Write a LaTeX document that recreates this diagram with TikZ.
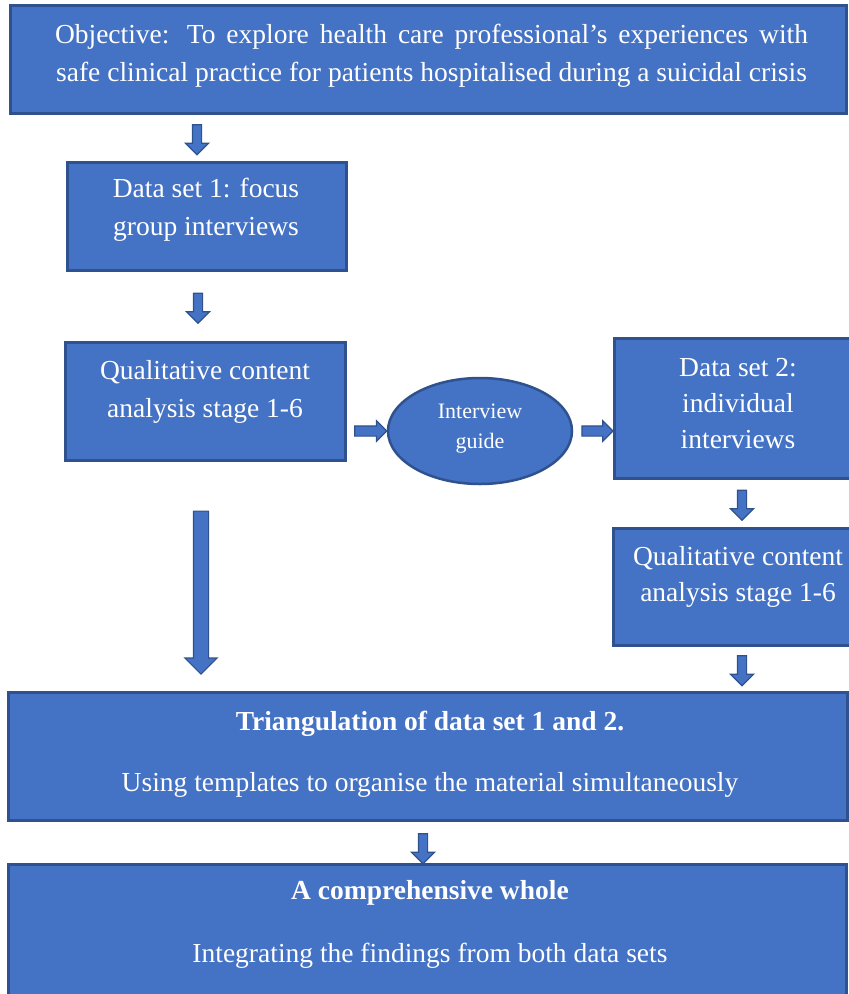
\documentclass[tikz,border=0pt]{standalone}
\usepackage{fontspec}
\setmainfont{Liberation Serif}
\usetikzlibrary{shapes.geometric,shapes.arrows}

\definecolor{officeblue}{HTML}{4472C4}
\definecolor{officeline}{HTML}{2F528F}

\begin{document}
\begin{tikzpicture}[x=1pt, y=-1pt,
        stage/.style={draw=officeline, line width=3pt, fill=officeblue, inner sep=0pt},
        stagetext/.style={text=white, align=center, inner sep=0pt, font=\fontsize{27.5}{38}\selectfont},
        blockarrow/.style={single arrow, draw=officeline, line width=1.2pt, fill=officeblue,
            inner xsep=0pt, inner ysep=4pt, single arrow head extend=7pt, minimum height=30pt, minimum width=0pt},
        downarrow/.style={blockarrow, rotate=-90}]

    \useasboundingbox (0,0) rectangle (849,994);
    \clip (0,0) rectangle (849,994);

    % boxes
    \node[stage, minimum width=836pt, minimum height=108pt] (objective) at (428,59) {};
    \node[stage, minimum width=279pt, minimum height=108pt] (set1) at (206.5,216) {};
    \node[stage, minimum width=280pt, minimum height=118pt] (analysis1) at (205,401) {};
    \node[stage, ellipse, line width=2.5pt, minimum width=184pt, minimum height=106pt] (guide) at (480,431) {};
    \node[stage, minimum width=248pt, minimum height=140pt] (set2) at (738,408) {};
    \node[stage, minimum width=249pt, minimum height=117pt] (analysis2) at (737.5,586.5) {};
    \node[stage, minimum width=839pt, minimum height=128pt] (triang) at (427.5,756) {};
    \node[stage, minimum width=838pt, minimum height=140pt] (whole) at (427,934) {};

    % texts
    \node[stagetext] (objtxt) at (431.5,56) {\makebox[753pt][s]{Objective: To explore health care professional’s experiences with}\\safe clinical practice for patients hospitalised during a suicidal crisis};
    \node[stagetext] (set1txt) at (206,210) {Data set 1: focus\\group interviews};
    \node[stagetext] (analysis1txt) at (205,392) {Qualitative content\\analysis stage 1-6};
    \node[stagetext, font=\fontsize{22}{30}\selectfont] (guidetxt) at (480,428.5) {Interview\\guide};
    \node[stagetext, font=\fontsize{27.5}{36}\selectfont] (set2txt) at (738,404) {Data set 2:\\individual\\interviews};
    \node[stagetext, font=\fontsize{27.5}{36}\selectfont] (analysis2txt) at (738,576.5) {Qualitative content\\analysis stage 1-6};
    \node[stagetext] (triangtxt) at (430,754) {\textbf{Triangulation of data set 1 and 2.}\\[23pt]Using templates to organise the material simultaneously};
    \node[stagetext] (wholetxt) at (430,924.5) {\textbf{A comprehensive whole}\\[25pt]Integrating the findings from both data sets};

    % arrows
    \path (set1.north |- objective.south) -- (set1.north) node[midway, xshift=-9.5pt, downarrow] {};
    \path (set1.south) -- (set1.south |- analysis1.north) node[midway, xshift=-8.5pt, downarrow] {};
    \path (analysis1.south) -- (analysis1.south |- triang.north)
        node[pos=0.556, xshift=-4pt, downarrow, inner ysep=7pt, single arrow head extend=8.5pt, minimum height=163pt] {};
    \path (analysis1.east |- guide.west) -- (guide.west) node[midway, xshift=1.5pt, blockarrow, inner ysep=4.5pt, single arrow head extend=5pt, minimum height=32pt] {};
    \path (guide.east) -- (set2.west |- guide.east) node[midway, xshift=2pt, blockarrow, inner ysep=4.5pt, single arrow head extend=5pt, minimum height=31pt] {};
    \path (set2.south) -- (set2.south |- analysis2.north) node[midway, xshift=4pt, downarrow] {};
    \path (analysis2.south) -- (analysis2.south |- triang.north) node[midway, xshift=4.5pt, downarrow] {};
    \path (triang.south) -- (triang.south |- whole.north) node[pos=0.61, xshift=-4.5pt, downarrow] {};
\end{tikzpicture}
\end{document}
